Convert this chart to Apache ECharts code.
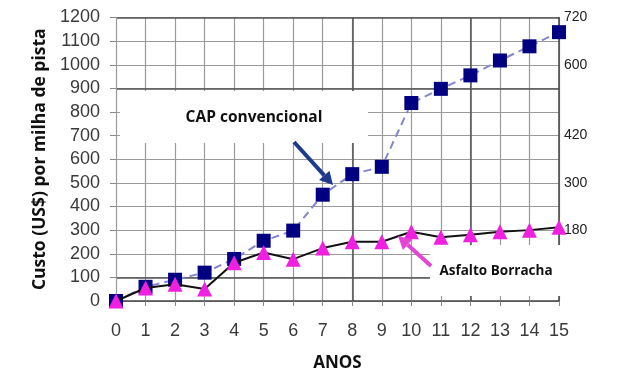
<!DOCTYPE html>
<html><head><meta charset="utf-8">
<script src="https://cdn.jsdelivr.net/npm/echarts@6/dist/echarts.min.js"></script>
<style>html,body{margin:0;padding:0;background:#fff}#c{width:643px;height:391px}</style>
</head><body><div id="c"></div>
<script>
const years = [0,1,2,3,4,5,6,7,8,9,10,11,12,13,14,15];
const capConvencional = [0,60,90,120,178,255,298,450,537,568,838,898,955,1018,1078,1138];
const asfaltoBorracha = [0,55,71,51,162,205,177,224,251,251,293,270,280,293,300,312];
const rightTicks = [180,300,420,600,720];
const heavyY = [100,900,1200];
const heavyX = [8,12];
const labelCap = 'CAP convencional';
const labelAsf = 'Asfalto Borracha';

const chart = echarts.init(document.getElementById('c'));
const pair = a => a.map((v,i)=>[years[i], v]);

function arrow(x1,y1,x2,y2,color,w,hl,hw){
  const dx=x2-x1, dy=y2-y1, L=Math.hypot(dx,dy), ux=dx/L, uy=dy/L;
  const bx=x2-ux*hl, by=y2-uy*hl;
  return [
    {type:'line', z:5, shape:{x1:x1,y1:y1,x2:bx,y2:by}, style:{stroke:color,lineWidth:w}},
    {type:'polygon', z:5, shape:{points:[[x2,y2],[bx-uy*hw,by+ux*hw],[bx+uy*hw,by-ux*hw]]}, style:{fill:color}}
  ];
}

chart.setOption({
  animation:false,
  grid:{left:116, right:84, top:17.5, bottom:90},
  xAxis:{type:'value', min:0, max:15, interval:1,
    name:'ANOS', nameLocation:'middle', nameGap:54,
    nameTextStyle:{fontFamily:'Open Sans', fontWeight:'bold', fontSize:17, color:'#111'},
    axisLine:{lineStyle:{color:'#444', width:1.5}},
    axisTick:{show:true, length:5, lineStyle:{color:'#888'}},
    axisLabel:{fontFamily:'Liberation Sans', fontSize:18, color:'#3a3a3a', margin:21, formatter:v=>String(v)},
    splitLine:{show:true, lineStyle:{color:'#9a9a9a', width:1.2}}
  },
  yAxis:[
    {type:'value', min:0, max:1200, interval:100,
     name:'Custo (US$) por milha de pista', nameLocation:'middle', nameGap:67, nameRotate:90,
     nameTextStyle:{fontFamily:'Open Sans', fontWeight:'bold', fontSize:17.5, color:'#111'},
     axisLine:{show:true, lineStyle:{color:'#999', width:1}},
     axisTick:{show:true, length:6, lineStyle:{color:'#888'}},
     axisLabel:{fontFamily:'Liberation Sans', fontSize:18, color:'#3a3a3a', margin:16, formatter:v=>String(v)},
     splitLine:{show:true, lineStyle:{color:'#9a9a9a', width:1.2}}
    },
    {type:'value', min:0, max:720, interval:60, position:'right',
     axisLine:{show:true, lineStyle:{color:'#444', width:1.5}},
     axisTick:{show:false},
     axisLabel:{fontFamily:'Liberation Sans', fontSize:14, color:'#222', margin:5,
       formatter:v=>rightTicks.includes(v)?String(v):''},
     splitLine:{show:false}
    }
  ],
  series:[
    {type:'line', z:0, data:[], silent:true,
     markLine:{silent:true, z:0, symbol:'none', label:{show:false},
       lineStyle:{color:'#555', width:1.5, type:'solid'},
       data:[...heavyY.map(v=>({yAxis:v})), ...heavyX.map(v=>({xAxis:v}))]}
    },
    {name:labelCap, type:'line', z:3, data:pair(capConvencional),
     symbol:'rect', symbolSize:14,
     itemStyle:{color:'#000080'},
     lineStyle:{color:'#8585d0', width:2, type:[8,5]}
    },
    {name:labelAsf, type:'line', z:4, data:pair(asfaltoBorracha),
     symbol:'triangle', symbolSize:15,
     itemStyle:{color:'#f020e0'},
     lineStyle:{color:'#111', width:2}
    }
  ],
  graphic:[
    {type:'rect', z:1, shape:{x:120, y:91, width:248, height:52}, style:{fill:'#fff'}},
    {type:'text', z:6, style:{text:labelCap, x:254, y:118, align:'center', verticalAlign:'middle',
      font:'bold 15.5px "Open Sans"', fill:'#111'}},
    {type:'rect', z:1, shape:{x:430, y:245, width:157, height:51}, style:{fill:'#fff'}},
    {type:'text', z:6, style:{text:labelAsf, x:496, y:271, align:'center', verticalAlign:'middle',
      font:'bold 13.5px "Open Sans"', fill:'#111'}},
    ...arrow(294,142,333,185,'#1e3a8e',4,13,7),
    ...arrow(431,266,398,236,'#e545d5',4,13,7)
  ]
});
</script></body></html>
